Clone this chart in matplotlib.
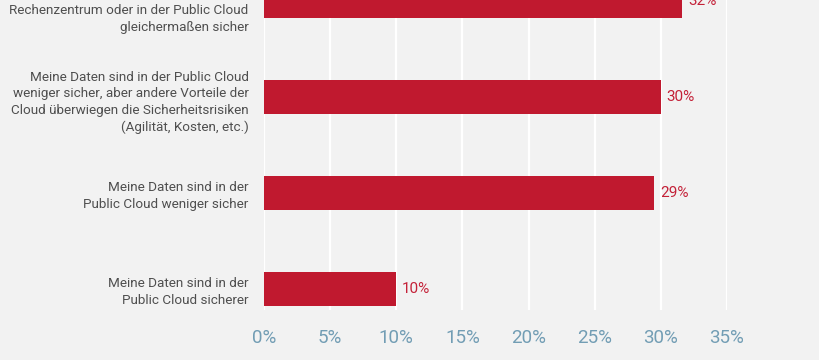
import matplotlib.pyplot as plt
from matplotlib.transforms import ScaledTranslation

# answers, top to bottom (first one is cut off at the top of the picture)
categories = [
    "Meine Daten sind in meinem eigenen\nRechenzentrum oder in der Public Cloud\ngleichermaßen sicher",
    "Meine Daten sind in der Public Cloud\nweniger sicher, aber andere Vorteile der\nCloud überwiegen die Sicherheitsrisiken\n(Agilität, Kosten, etc.)",
    "Meine Daten sind in der\nPublic Cloud weniger sicher",
    "Meine Daten sind in der\nPublic Cloud sicherer",
]
values = [31.6, 30.0, 29.5, 10.0]
value_labels = ["32%", "30%", "29%", "10%"]
x_ticks = [0, 5, 10, 15, 20, 25, 30, 35]
x_tick_labels = ["0%", "5%", "10%", "15%", "20%", "25%", "30%", "35%"]

bg = "#f2f2f2"
bar_color = "#c0192f"

plt.rcParams['font.family'] = ['Roboto', 'DejaVu Sans']

fig = plt.figure(figsize=(8.2, 3.6), dpi=100, facecolor=bg)
ax = fig.add_axes([264 / 820, 1 - 310 / 360, (727 - 264) / 820, 310 / 360])
ax.set_facecolor(bg)

pos = list(range(len(categories)))
ax.barh(pos, values, height=0.36, color=bar_color, zorder=3)

for p, v, lab in zip(pos, values, value_labels):
    ax.text(v + 0.45, p, lab, va='center', ha='left', color="#c42138",
            fontsize=11, zorder=4)

ax.set_xlim(0, 35)
ax.set_ylim(3.22, -0.01)
ax.set_xticks(x_ticks)
ax.set_xticklabels(x_tick_labels, color="#729db4", fontsize=13.5)
ax.set_yticks(pos)
ax.set_yticklabels(categories, color="#4f4f4f", fontsize=9.7, linespacing=1.37)
ax.tick_params(axis='x', length=0, pad=14)
ax.tick_params(axis='y', length=0, pad=11)

# the long labels sit a little lower than their bars
shifts = [6, 2, 0, 0]
for lab, s in zip(ax.get_yticklabels(), shifts):
    lab.set_transform(lab.get_transform() + ScaledTranslation(0, -s / 100, fig.dpi_scale_trans))

ax.grid(axis='x', color='white', linewidth=1.6, zorder=1)
ax.set_axisbelow(True)
for s in ax.spines.values():
    s.set_visible(False)

fig.savefig("out.png", dpi=100, facecolor=bg)
